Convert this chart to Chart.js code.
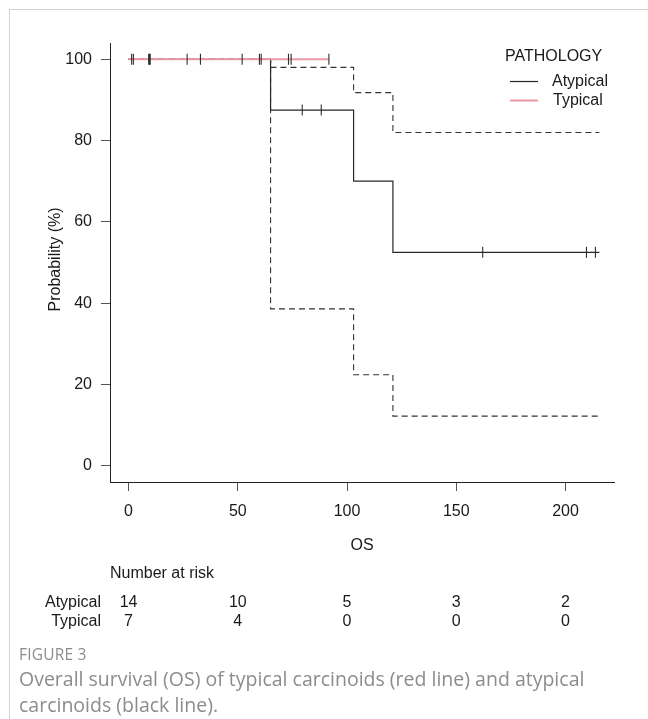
<!DOCTYPE html>
<html>
<head>
<meta charset="utf-8">
<script src="https://cdn.jsdelivr.net/npm/chart.js@4.4.1/dist/chart.umd.min.js"></script>
<style>
html,body{margin:0;padding:0;background:#fff;width:648px;height:719px;overflow:hidden;}
#frame{position:absolute;left:9px;top:9px;width:700px;height:800px;border-left:1px solid #d2d2d2;border-top:1px solid #d2d2d2;}
#wrap{position:absolute;left:0;top:0;width:648px;height:719px;}
#figlab{position:absolute;left:19px;top:643px;font-family:'Open Sans',sans-serif;font-size:15.5px;line-height:22px;color:#8c8c8c;letter-spacing:0.2px;}
#cap{position:absolute;left:19px;top:666px;width:600px;font-family:'Open Sans',sans-serif;font-size:19.5px;line-height:26px;color:#8c8c8c;}
</style>
</head>
<body>
<div id="frame"></div>
<div id="wrap"><canvas id="c" width="648" height="719"></canvas></div>
<div id="figlab">FIGURE 3</div>
<div id="cap">Overall survival (OS) of typical carcinoids (red line) and atypical carcinoids (black line).</div>
<script>
// ---- data ----
const xTicks = [0, 50, 100, 150, 200];
const yTicks = [0, 20, 40, 60, 80, 100];

const atypicalTimes = [0, 65, 103, 121];
const atypicalSurv  = [100, 87.5, 70, 52.5];
const atypicalUpper = [100, 98.0, 91.8, 82.0];
const atypicalLower = [100, 38.6, 22.4, 12.2];
const atypicalEnd = 215.5;

const typicalTimes = [0];
const typicalSurv  = [100];
const typicalEnd = 91.7;

const atypicalCensor = [1.4, 9.2, 9.6, 32.9, 59.9, 60.7, 79.5, 88.2, 162.1, 209.6, 213.7];
const typicalCensor  = [2.2, 9.9, 26.8, 52.0, 73.2, 74.4, 91.7];

const riskTimes = [0, 50, 100, 150, 200];
const riskAtypical = [14, 10, 5, 3, 2];
const riskTypical  = [7, 4, 0, 0, 0];

const groupNames = ['Atypical', 'Typical'];
const legendTitle = 'PATHOLOGY';

// ---- helpers ----
function stepPoints(times, vals, end) {
  const pts = times.map((t, i) => ({x: t, y: vals[i]}));
  pts.push({x: end, y: vals[vals.length - 1]});
  return pts;
}
function survAt(times, vals, t) {
  let v = vals[0];
  for (let i = 0; i < times.length; i++) if (times[i] <= t) v = vals[i];
  return v;
}

const FONT = "'Liberation Sans', Arial, sans-serif";
const BLACK = '#262626';
const PINK = '#ec98a4';

const extras = {
  id: 'extras',
  afterDraw(chart) {
    const c = chart.ctx, xs = chart.scales.x, ca = chart.chartArea;
    c.save();
    c.fillStyle = '#1a1a1a';
    c.font = '16px ' + FONT;
    // y axis title
    c.save();
    c.translate(56, (ca.top + ca.bottom) / 2 - 3);
    c.rotate(-Math.PI / 2);
    c.textAlign = 'center'; c.textBaseline = 'middle';
    c.fillText('Probability (%)', 0, 0);
    c.restore();
    // x axis title
    c.textAlign = 'center'; c.textBaseline = 'middle';
    c.fillText('OS', (ca.left + ca.right) / 2, 546);
    // number at risk
    c.textAlign = 'left';
    c.fillText('Number at risk', 110, 574);
    c.textAlign = 'right';
    c.fillText(groupNames[0], 101, 603);
    c.fillText(groupNames[1], 101, 622);
    c.textAlign = 'center';
    riskTimes.forEach((t, i) => {
      const px = xs.getPixelForValue(t);
      c.fillText(String(riskAtypical[i]), px, 603);
      c.fillText(String(riskTypical[i]), px, 622);
    });
    // legend
    c.textAlign = 'left';
    c.fillText(legendTitle, 505, 57);
    c.fillText(groupNames[0], 552, 82);
    c.fillText(groupNames[1], 553, 101);
    c.lineWidth = 1.2; c.strokeStyle = BLACK;
    c.beginPath(); c.moveTo(510, 81.5); c.lineTo(538, 81.5); c.stroke();
    c.lineWidth = 2; c.strokeStyle = PINK;
    c.beginPath(); c.moveTo(510, 100.5); c.lineTo(538, 100.5); c.stroke();
    c.restore();
  }
};

const axisCommon = {
  type: 'linear',
  grid: {drawOnChartArea: false, drawTicks: true, tickLength: 9, color: '#555', lineWidth: 1},
  border: {display: true, color: '#222', width: 1},
};

new Chart(document.getElementById('c'), {
  type: 'line',
  data: {
    datasets: [
      {label: 'Censored', type: 'scatter',
       data: atypicalCensor.map(t => ({x: t, y: survAt(atypicalTimes, atypicalSurv, t)}))
         .concat(typicalCensor.map(t => ({x: t, y: survAt(typicalTimes, typicalSurv, t)}))),
       pointStyle: 'line', rotation: 90, pointRadius: 5.5, borderColor: '#2e2e2e', borderWidth: 1.1,
       showLine: false, order: 0},
      {label: 'Typical', data: stepPoints(typicalTimes, typicalSurv, typicalEnd),
       borderColor: PINK, borderWidth: 2, stepped: true, pointRadius: 0, order: 1},
      {label: 'Atypical', data: stepPoints(atypicalTimes, atypicalSurv, atypicalEnd),
       borderColor: BLACK, borderWidth: 1.2, stepped: true, pointRadius: 0, order: 2},
      {label: 'Upper', data: stepPoints(atypicalTimes, atypicalUpper, atypicalEnd),
       borderColor: '#333', borderWidth: 1.1, borderDash: [6, 4], stepped: true, pointRadius: 0, order: 3},
      {label: 'Lower', data: stepPoints(atypicalTimes, atypicalLower, atypicalEnd),
       borderColor: '#333', borderWidth: 1.1, borderDash: [6, 4], stepped: true, pointRadius: 0, order: 4}
    ]
  },
  options: {
    responsive: false, animation: false, devicePixelRatio: 1, events: [],
    layout: {padding: {left: 0, right: 34, top: 43, bottom: 0}},
    plugins: {legend: {display: false}, tooltip: {enabled: false}},
    scales: {
      x: Object.assign({}, axisCommon, {
        min: -8.5, max: 222.2,
        afterBuildTicks: s => { s.ticks = xTicks.map(v => ({value: v})); },
        afterFit: s => { s.height = 237; },
        ticks: {autoSkip: false, maxRotation: 0, padding: 11, color: '#1a1a1a', font: {family: FONT, size: 16}}
      }),
      y: Object.assign({}, axisCommon, {
        min: -4, max: 104,
        afterBuildTicks: s => { s.ticks = yTicks.map(v => ({value: v})); },
        afterFit: s => { s.width = 110; },
        ticks: {autoSkip: false, padding: 9, color: '#1a1a1a', font: {family: FONT, size: 16}}
      })
    }
  },
  plugins: [extras]
});
</script>
</body>
</html>
